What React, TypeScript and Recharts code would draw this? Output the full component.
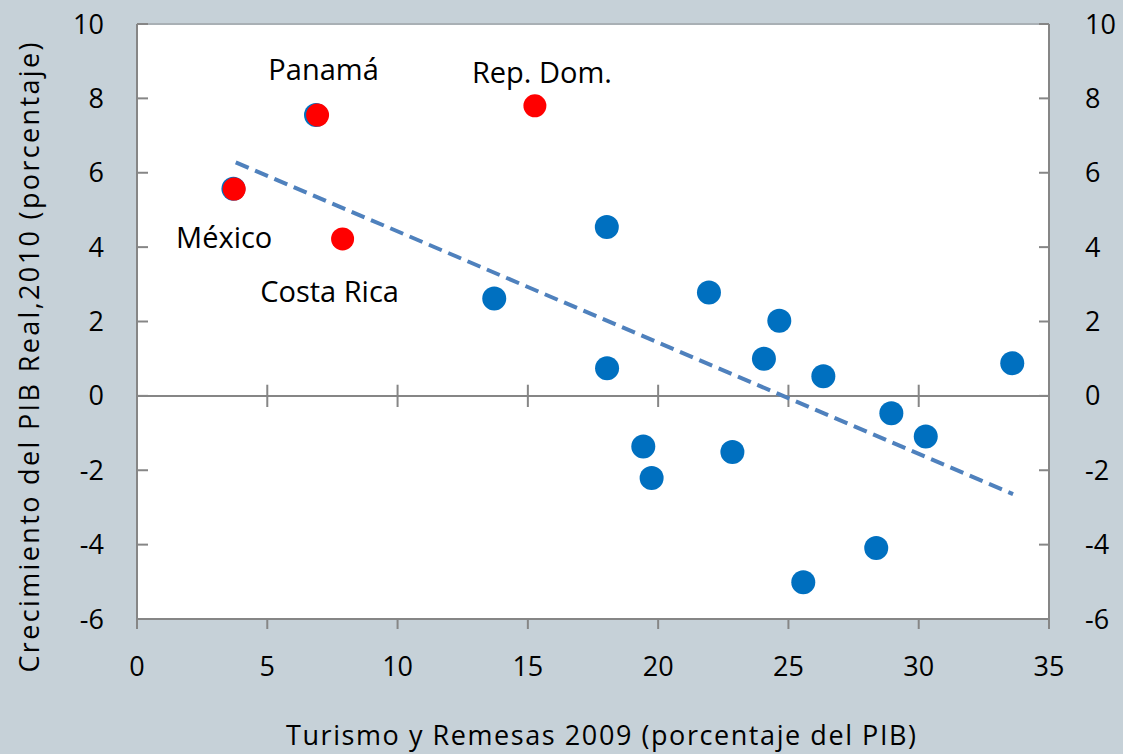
import { ScatterChart, Scatter, XAxis, YAxis, ReferenceLine } from "recharts"

const xTicks = [0, 5, 10, 15, 20, 25, 30, 35]
const yTicks = [-6, -4, -2, 0, 2, 4, 6, 8, 10]

// todos los paises (azul)
const blueX = [18.03, 13.71, 18.04, 21.95, 24.65, 24.06, 26.34, 33.59, 19.43, 19.75, 22.85, 28.95, 30.27, 28.37, 25.57, 6.87, 3.7]
const blueY = [4.54, 2.62, 0.74, 2.78, 2.02, 1.0, 0.53, 0.88, -1.36, -2.21, -1.51, -0.47, -1.09, -4.09, -5.01, 7.55, 5.57]

// paises destacados (rojo)
const redNames = ["Panamá", "Rep. Dom.", "México", "Costa Rica"]
const redX = [6.93, 15.27, 3.73, 7.89]
const redY = [7.55, 7.8, 5.56, 4.22]

// tendencia lineal
const trendX = [3.79, 33.62]
const trendY = [6.28, -2.64]

const FONT = "'Open Sans', sans-serif"
const AXIS = "#868686"

const labelOffset: Record<string, { dx: number; dy: number }> = {
    "Panamá": { dx: 6, dy: -35 },
    "Rep. Dom.": { dx: 7, dy: -23 },
    "México": { dx: -10, dy: 59 },
    "Costa Rica": { dx: -13, dy: 63 },
}

const bluePoints = blueX.map((x, i) => ({ x, y: blueY[i] }))
const redPoints = redX.map((x, i) => ({ x, y: redY[i], name: redNames[i] }))
const trendPoints = trendX.map((x, i) => ({ x, y: trendY[i] }))

const RedDot = (props: any) => {
    const { cx, cy, payload } = props
    const off = labelOffset[payload.name] || { dx: 0, dy: -20 }
    return (
        <g>
            <circle cx={cx} cy={cy} r={11.5} fill="#FF0000" />
            <text x={cx + off.dx} y={cy + off.dy} textAnchor="middle" fontSize={29} fontFamily={FONT} fill="#000">
                {payload.name}
            </text>
        </g>
    )
}

const BlueDot = (props: any) => <circle cx={props.cx} cy={props.cy} r={12} fill="#0070C0" />

const App = () => {
    return (
        <div style={{ position: "absolute", left: 0, top: 0, width: 1123, height: 754, background: "#c6d1d8" }}>
            <ScatterChart width={1123} height={754} margin={{ top: 24, right: 0, bottom: 0, left: 0 }}>
                <rect x={137} y={23} width={912} height={596} fill="#fff" />
                <XAxis
                    type="number"
                    dataKey="x"
                    domain={[0, 35]}
                    ticks={xTicks}
                    height={135}
                    tickSize={10}
                    tickMargin={28}
                    axisLine={{ stroke: AXIS, strokeWidth: 2 }}
                    tickLine={{ stroke: AXIS, strokeWidth: 2 }}
                    tick={{ fill: "#000", fontSize: 27, fontFamily: FONT }}
                    label={({ viewBox }: any) => (
                        <text
                            x={viewBox.x + viewBox.width / 2 + 8}
                            y={viewBox.y + 126}
                            textAnchor="middle"
                            textLength={630}
                            lengthAdjust="spacing"
                            fontSize={27}
                            fontFamily={FONT}
                            fill="#000"
                        >
                            Turismo y Remesas 2009 (porcentaje del PIB)
                        </text>
                    )}
                />
                <YAxis
                    yAxisId="left"
                    type="number"
                    dataKey="y"
                    domain={[-6, 10]}
                    ticks={yTicks}
                    width={137}
                    tickSize={-11}
                    tickMargin={44}
                    axisLine={{ stroke: AXIS, strokeWidth: 2 }}
                    tickLine={{ stroke: AXIS, strokeWidth: 2 }}
                    tick={{ fill: "#000", fontSize: 27, fontFamily: FONT }}
                    label={({ viewBox }: any) => {
                        const cx = viewBox.x + 28
                        const cy = viewBox.y + viewBox.height / 2 + 36
                        return (
                            <text
                                x={cx}
                                y={cy}
                                transform={`rotate(-90, ${cx}, ${cy})`}
                                textAnchor="middle"
                                dominantBaseline="central"
                                textLength={630}
                                lengthAdjust="spacing"
                                fontSize={27}
                                fontFamily={FONT}
                                fill="#000"
                            >
                                Crecimiento del PIB Real,2010 (porcentaje)
                            </text>
                        )
                    }}
                />
                <YAxis
                    yAxisId="right"
                    orientation="right"
                    type="number"
                    dataKey="y"
                    domain={[-6, 10]}
                    ticks={yTicks}
                    width={74}
                    tickSize={-10}
                    tickMargin={46}
                    axisLine={{ stroke: AXIS, strokeWidth: 2 }}
                    tickLine={{ stroke: AXIS, strokeWidth: 2 }}
                    tick={{ fill: "#000", fontSize: 27, fontFamily: FONT, textAnchor: "start" }}
                />
                <ReferenceLine yAxisId="left" y={10} stroke="#a9b0b5" strokeWidth={2} />
                <ReferenceLine yAxisId="left" y={0} stroke={AXIS} strokeWidth={2} />
                {xTicks.slice(1, -1).map(t => (
                    <ReferenceLine
                        key={t}
                        yAxisId="left"
                        segment={[{ x: t, y: -0.3 }, { x: t, y: 0.3 }]}
                        stroke={AXIS}
                        strokeWidth={2}
                    />
                ))}
                <Scatter yAxisId="left" data={bluePoints} shape={BlueDot} isAnimationActive={false} />
                <Scatter
                    yAxisId="right"
                    data={trendPoints}
                    line={{ stroke: "#4F81BD", strokeWidth: 4, strokeDasharray: "14 7" }}
                    shape={() => <g />}
                    isAnimationActive={false}
                />
                <Scatter yAxisId="left" data={redPoints} shape={RedDot} isAnimationActive={false} />
            </ScatterChart>
        </div>
    )
}

export default App
